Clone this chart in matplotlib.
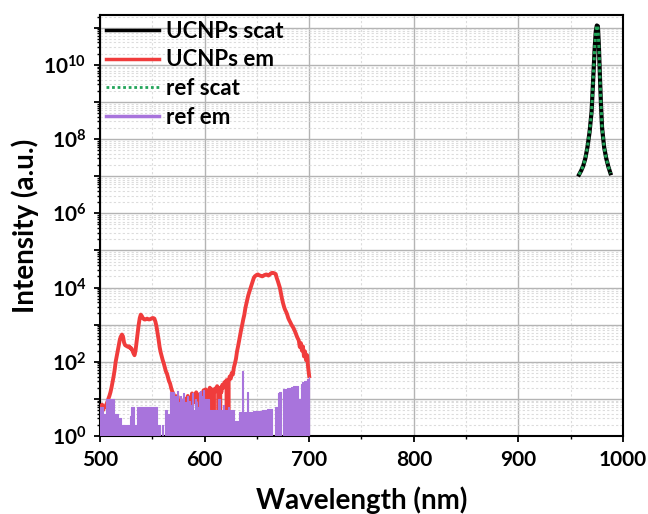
import matplotlib
matplotlib.use("Agg")
import numpy as np
from matplotlib import pyplot as plt
from matplotlib.lines import Line2D
from matplotlib import ticker

plt.rcParams['font.family'] = ['Lato', 'DejaVu Sans']

# emission spectra, 1 nm steps from 500 to 700 nm
em_wl = np.arange(500, 701)
ucnp_em = [
    6, 5, 7, 5, 6, 6, 7, 8, 10, 12,
    15, 20, 28, 40, 60, 100, 140, 200, 280, 400,
    480, 540, 480, 330, 280, 270, 260, 250, 260, 230,
    230, 200, 170, 150, 200, 350, 590, 1000, 1500, 1860,
    1700, 1500, 1400, 1370, 1400, 1450, 1400, 1380, 1400, 1450,
    1500, 1500, 1450, 1200, 900, 600, 400, 250, 180, 140,
    110, 90, 70, 55, 48, 38, 30, 26, 20, 16,
    14, 12, 10, 9, 12, 8, 6, 0, 9, 0,
    7, 10, 6, 9, 12, 8, 10, 0, 14, 9,
    12, 8, 15, 10, 13, 9, 0, 14, 11, 17,
    15, 18, 12, 0, 16, 20, 14, 18, 0, 15,
    19, 16, 22, 18, 0, 20, 15, 24, 20, 28,
    25, 32, 0, 30, 40, 35, 50, 45, 70, 90,
    120, 190, 260, 370, 520, 740, 1000, 1400, 1860, 2800,
    3800, 5000, 6500, 8000, 9800, 12000, 15000, 18000, 20000, 21000,
    22000, 22500, 21500, 21000, 20500, 20000, 20500, 21500, 22000, 22500,
    22000, 21000, 22000, 23500, 24500, 25000, 24500, 24000, 23000, 18000,
    15000, 12000, 9800, 7000, 5000, 3800, 3000, 2500, 2200, 1860,
    1500, 1300, 1150, 1000, 900, 810, 700, 600, 500, 430,
    380, 250, 320, 200, 260, 140, 190, 110, 150, 70,
    41,
]
ref_em = [
    6, 6, 6, 4, 4, 0, 10, 10, 10, 10,
    10, 10, 0, 10, 4, 4, 4, 4, 0, 3,
    3, 0, 2, 2, 2, 0, 2, 2, 0, 3.5,
    6, 6, 6, 2, 2, 0, 6, 6, 6, 6,
    6, 6, 0, 6, 6, 6, 6, 6, 6, 6,
    6, 0, 6, 6, 6, 0, 2, 2, 0, 0,
    2, 0, 0, 5, 5, 0, 4, 15, 15, 12,
    15, 0, 12, 10, 16, 8, 0, 12, 6, 10,
    14, 0, 8, 6, 12, 0, 9, 7, 14, 0,
    5, 10, 8, 0, 6, 15, 16, 12, 0, 17,
    10, 10, 10, 0, 10, 5, 5, 0, 5, 5,
    5, 0, 5, 10, 10, 0, 5, 5, 7, 0,
    5, 5, 0, 6, 5, 0, 5, 5, 5, 0,
    2.5, 2.5, 0, 4.5, 4.5, 4.5, 56, 4.5, 4.5, 0,
    4.5, 15, 4.5, 4.5, 4.5, 4.5, 0, 4.6, 4.6, 4.7,
    0, 4.8, 4.8, 4.8, 0, 5, 5, 5, 5, 0,
    5.2, 5.2, 5.2, 0, 5.4, 0, 0, 0, 6, 6,
    0, 14, 15, 15, 0, 18, 18, 18, 0, 20,
    20, 20, 0, 21, 21, 22, 0, 22, 22, 22,
    0, 10, 0, 25, 28, 0, 30, 30, 35, 0,
    40,
]

# scattering peak
scat_wl = [958, 960, 962, 964, 966, 968, 970, 972, 973, 974, 975, 976,
           977, 978, 979, 980, 982, 984, 986, 988]
ucnp_scat = [1.1e7, 1.4e7, 1.9e7, 3e7, 6e7, 1.5e8, 5.5e8, 8e9, 3e10, 8e10,
             1.15e11, 1.1e11, 3e10, 4.5e9, 8e8, 2e8, 6e7, 3e7, 1.8e7, 1.2e7]
ref_scat = [1.1e7, 1.4e7, 1.9e7, 3e7, 6e7, 1.5e8, 5.5e8, 8e9, 3e10, 8e10,
            1.15e11, 1.1e11, 3e10, 4.5e9, 8e8, 2e8, 6e7, 3e7, 1.8e7, 1.2e7]

c_black = '#000000'
c_red = '#f03c3c'
c_green = '#22a45a'
c_purple = '#a874dc'

fig = plt.figure(figsize=(6.48, 5.14), dpi=100)
ax = fig.add_axes([0.1543, 0.1518, 0.8071, 0.819])
ax.set_yscale('log')

ax.plot(scat_wl, ucnp_scat, color=c_black, lw=3.0, zorder=4)
ax.plot(em_wl, ucnp_em, color=c_red, lw=2.8, zorder=3)
ax.plot(scat_wl, ref_scat, color=c_green, lw=2.2, ls=(0, (1, 1)), zorder=5)
ax.fill_between(em_wl, ref_em, 1e-3, step='mid', facecolor=c_purple,
                edgecolor=c_purple, lw=0.8, zorder=4)

ax.set_xlim(500, 1000)
ax.set_ylim(1, 2.2e11)

ax.xaxis.set_major_locator(ticker.MultipleLocator(100))
ax.xaxis.set_minor_locator(ticker.MultipleLocator(50))
ax.yaxis.set_major_locator(ticker.LogLocator(base=10, numticks=20))
ax.yaxis.set_minor_locator(ticker.LogLocator(base=10, subs=np.arange(2, 10), numticks=20))


def ylab(v, pos):
    e = int(round(np.log10(v)))
    if e % 2 == 0:
        return r'$\mathregular{10^{%d}}$' % e
    return ''


ax.yaxis.set_major_formatter(ticker.FuncFormatter(ylab))
ax.yaxis.set_minor_formatter(ticker.NullFormatter())

ax.grid(which='major', color='#b4b4b4', lw=1.0, zorder=0)
ax.grid(which='minor', color='#dcdcdc', lw=0.8, ls=(0, (2, 2)), zorder=0)
ax.set_axisbelow(True)

ax.tick_params(which='major', direction='out', length=4, width=1.3, labelsize=15, pad=6)
ax.tick_params(which='minor', direction='out', length=2.5, width=1.0)
for s in ax.spines.values():
    s.set_linewidth(1.5)
for lab in ax.get_xticklabels() + ax.get_yticklabels():
    lab.set_fontweight('bold')

ax.set_xlabel('Wavelength (nm)', fontsize=20, fontweight='bold', labelpad=12)
ax.set_ylabel('Intensity (a.u.)', fontsize=20, fontweight='bold', labelpad=3)

handles = [Line2D([], [], color=c_black, lw=2.5),
           Line2D([], [], color=c_red, lw=2.5),
           Line2D([], [], color=c_green, lw=2.0, ls=(0, (1, 1))),
           Line2D([], [], color=c_purple, lw=2.5)]
ax.legend(handles, ['UCNPs scat', 'UCNPs em', 'ref scat', 'ref em'],
          loc='upper left', frameon=False, handlelength=2.4,
          handletextpad=0.3, labelspacing=0.35, borderaxespad=0.1,
          borderpad=0.15, prop={'weight': 'bold', 'size': 16})

fig.savefig('out.png', dpi=100)
